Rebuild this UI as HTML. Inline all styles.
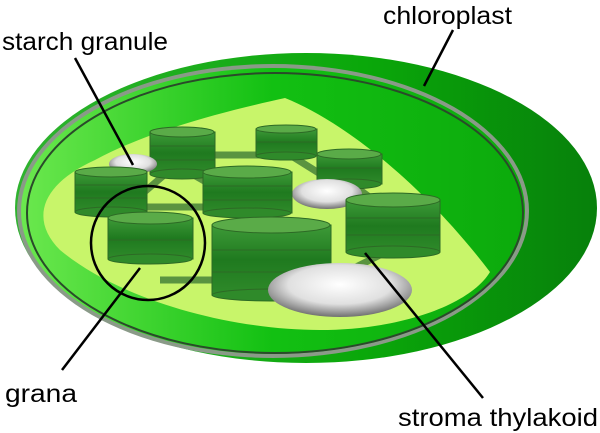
<!DOCTYPE html>
<html><head><style>body{margin:0;background:#fff}svg{display:block}</style></head><body>
<svg width="600" height="433" viewBox="0 0 600 433" xmlns="http://www.w3.org/2000/svg">
<defs>
<linearGradient id="outer" x1="0" x2="1" y1="0" y2="0"><stop offset="0" stop-color="#2fb32f"/><stop offset="0.6" stop-color="#0aa80a"/><stop offset="1" stop-color="#07800b"/></linearGradient>
<linearGradient id="inner" x1="0" x2="1" y1="0" y2="0"><stop offset="0" stop-color="#6be84e"/><stop offset="0.5" stop-color="#12c012"/><stop offset="1" stop-color="#0caa0c"/></linearGradient>
<linearGradient id="cyl" x1="0" x2="0" y1="0" y2="1"><stop offset="0" stop-color="#3e9a38"/><stop offset="0.5" stop-color="#1f7a1f"/><stop offset="1" stop-color="#2f8a2a"/></linearGradient>
<radialGradient id="starch" cx="0.5" cy="0.4" r="0.6"><stop offset="0" stop-color="#ffffff"/><stop offset="0.6" stop-color="#e0e0e0"/><stop offset="1" stop-color="#707070"/></radialGradient>
</defs>
<ellipse cx="306" cy="208" rx="291" ry="155" fill="url(#outer)"/>
<ellipse cx="273" cy="211" rx="256" ry="147" fill="#8a9a88"/>
<ellipse cx="273" cy="211" rx="252" ry="143" fill="url(#inner)"/>
<ellipse cx="275" cy="213" rx="248" ry="140" fill="none" stroke="#2a4a2a" stroke-width="2"/>
<path d="M285 98 C340 120 420 180 490 272 C470 305 400 330 320 330 C230 330 120 300 60 250 C30 220 40 185 95 160 C150 130 230 110 285 98 Z" fill="#c8f56a"/>
<g stroke="#4f8a3c" stroke-width="7" opacity="0.9">
<line x1="210" y1="155" x2="260" y2="155"/><line x1="290" y1="155" x2="330" y2="180"/><line x1="170" y1="170" x2="135" y2="200"/><line x1="185" y1="170" x2="220" y2="190"/><line x1="145" y1="207" x2="205" y2="207"/><line x1="300" y1="200" x2="335" y2="185"/><line x1="360" y1="190" x2="380" y2="205"/><line x1="255" y1="215" x2="255" y2="225"/><line x1="160" y1="280" x2="215" y2="280"/><line x1="330" y1="280" x2="390" y2="250"/><line x1="110" y1="220" x2="130" y2="240"/>
</g>
<g stroke="#2d6a25" stroke-width="1">
<g><rect x="150" y="132" width="65" height="42" fill="url(#cyl)"/><ellipse cx="182" cy="132" rx="32" ry="5" fill="#5aab48"/><ellipse cx="182" cy="174" rx="32" ry="5" fill="#2f8a2a"/><line x1="150" y1="146" x2="215" y2="146"/><line x1="150" y1="160" x2="215" y2="160"/></g>
<ellipse cx="133" cy="164" rx="24" ry="10" fill="url(#starch)" stroke="none"/>
<g><rect x="256" y="129" width="61" height="27" fill="url(#cyl)"/><ellipse cx="286" cy="129" rx="30" ry="4" fill="#5aab48"/><ellipse cx="286" cy="156" rx="30" ry="4" fill="#2f8a2a"/><line x1="256" y1="142" x2="317" y2="142"/></g>
<g><rect x="317" y="154" width="65" height="30" fill="url(#cyl)"/><ellipse cx="349" cy="154" rx="32" ry="5" fill="#5aab48"/><ellipse cx="349" cy="184" rx="32" ry="5" fill="#2f8a2a"/><line x1="317" y1="168" x2="382" y2="168"/></g>
<ellipse cx="327" cy="194" rx="35" ry="15" fill="url(#starch)" stroke="none"/>
<g><rect x="75" y="172" width="72" height="40" fill="url(#cyl)"/><ellipse cx="111" cy="172" rx="36" ry="5" fill="#5aab48"/><ellipse cx="111" cy="212" rx="36" ry="5" fill="#2f8a2a"/><line x1="75" y1="185" x2="147" y2="185"/><line x1="75" y1="198" x2="147" y2="198"/></g>
<g><rect x="203" y="172" width="89" height="41" fill="url(#cyl)"/><ellipse cx="247" cy="172" rx="44" ry="6" fill="#5aab48"/><ellipse cx="247" cy="213" rx="44" ry="5" fill="#2f8a2a"/><line x1="203" y1="186" x2="292" y2="186"/><line x1="203" y1="200" x2="292" y2="200"/></g>
<g><rect x="346" y="200" width="94" height="52" fill="url(#cyl)"/><ellipse cx="393" cy="200" rx="47" ry="7" fill="#5aab48"/><ellipse cx="393" cy="252" rx="47" ry="6" fill="#2f8a2a"/><line x1="346" y1="218" x2="440" y2="218"/><line x1="346" y1="235" x2="440" y2="235"/></g>
<g><rect x="108" y="218" width="85" height="41" fill="url(#cyl)"/><ellipse cx="150" cy="218" rx="42" ry="6" fill="#5aab48"/><ellipse cx="150" cy="259" rx="42" ry="5" fill="#2f8a2a"/><line x1="108" y1="240" x2="193" y2="240"/></g>
<g><rect x="212" y="225" width="119" height="70" fill="url(#cyl)"/><ellipse cx="271" cy="225" rx="59" ry="8" fill="#5aab48"/><ellipse cx="271" cy="295" rx="59" ry="6" fill="#2f8a2a"/><line x1="212" y1="250" x2="331" y2="250"/><line x1="212" y1="272" x2="331" y2="272"/></g>
<ellipse cx="340" cy="290" rx="72" ry="27" fill="url(#starch)" stroke="none"/>
</g>
<circle cx="148" cy="243" r="57" fill="none" stroke="#000" stroke-width="2.5"/>
<g stroke="#000" stroke-width="2.5">
<line x1="75" y1="58" x2="133" y2="165"/><line x1="453" y1="30" x2="424" y2="86"/><line x1="62" y1="370" x2="140" y2="268"/><line x1="483" y1="398" x2="365" y2="253"/>
</g>
<g font-family="Liberation Sans, sans-serif" font-size="25" fill="#000">
<text x="2" y="50" textLength="166" lengthAdjust="spacingAndGlyphs">starch granule</text>
<text x="383" y="24" textLength="129" lengthAdjust="spacingAndGlyphs">chloroplast</text>
<text x="5" y="402" textLength="72" lengthAdjust="spacingAndGlyphs">grana</text>
<text x="398" y="426" textLength="200" lengthAdjust="spacingAndGlyphs">stroma thylakoid</text>
</g>
</svg>
</body></html>
